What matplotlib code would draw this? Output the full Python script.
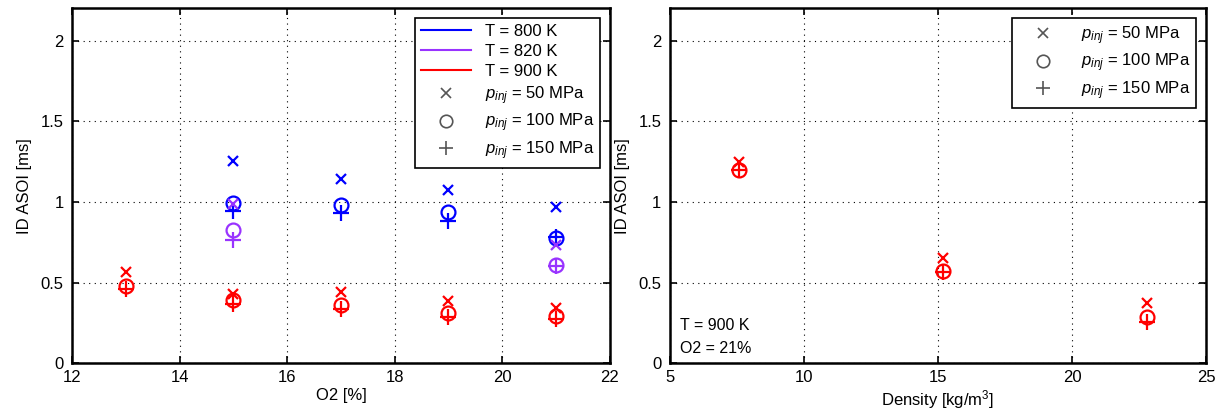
import matplotlib
matplotlib.use("Agg")
import matplotlib.pyplot as plt
from matplotlib.lines import Line2D

plt.rcParams['font.family'] = ['Liberation Sans', 'DejaVu Sans']
plt.rcParams['mathtext.fontset'] = 'custom'
plt.rcParams['mathtext.rm'] = 'Liberation Sans'
plt.rcParams['mathtext.it'] = 'Liberation Sans:italic'
plt.rcParams['font.size'] = 12

# left panel: ID vs O2 for three temperatures, three injection pressures
o2_800 = [15, 17, 19, 21]
id_800_p50 = [1.255, 1.14, 1.073, 0.97]
id_800_p100 = [0.995, 0.984, 0.94, 0.777]
id_800_p150 = [0.945, 0.932, 0.88, 0.783]

o2_820 = [15, 21]
id_820_p50 = [0.99, 0.73]
id_820_p100 = [0.824, 0.61]
id_820_p150 = [0.767, 0.605]

o2_900 = [13, 15, 17, 19, 21]
id_900_p50 = [0.565, 0.432, 0.442, 0.386, 0.345]
id_900_p100 = [0.48, 0.395, 0.364, 0.311, 0.29]
id_900_p150 = [0.46, 0.37, 0.339, 0.287, 0.276]

# right panel: ID vs density at T = 900 K, O2 = 21 %
density = [7.6, 15.2, 22.8]
id_rho_p50 = [1.248, 0.655, 0.376]
id_rho_p100 = [1.2, 0.572, 0.287]
id_rho_p150 = [1.2, 0.566, 0.256]

temps = ['T = 800 K', 'T = 820 K', 'T = 900 K']
colors = ['#0000ff', '#9933ff', '#ff0000']
pinj_labels = [r'$p_{inj}$ = 50 MPa', r'$p_{inj}$ = 100 MPa', r'$p_{inj}$ = 150 MPa']
marks = ['x', 'o', '+']
msizes = [7.5, 10, 11]


def style(ax):
    ax.set_ylim(0, 2.2)
    ax.set_yticks([0, 0.5, 1, 1.5, 2])
    ax.set_yticklabels(['0', '0.5', '1', '1.5', '2'])
    ax.grid(True, color='k', linestyle=(0, (1, 4)), linewidth=0.8)
    ax.tick_params(direction='in', top=True, right=True, length=5, width=1.2)
    ax.tick_params(axis='x', pad=5)
    ax.tick_params(axis='y', pad=6)
    for s in ax.spines.values():
        s.set_linewidth(1.8)
    ax.set_ylabel('ID ASOI [ms]', labelpad=6)


def pts(ax, x, ys, c):
    for y, m, ms in zip(ys, marks, msizes):
        ax.plot(x, y, linestyle='none', marker=m, color=c, markersize=ms,
                markerfacecolor='none', markeredgewidth=1.6)


fig = plt.figure(figsize=(12.22, 4.18), dpi=100)
ax1 = fig.add_axes([0.059, 0.131, 0.440, 0.849])
ax2 = fig.add_axes([0.548, 0.131, 0.439, 0.849])

pts(ax1, o2_800, [id_800_p50, id_800_p100, id_800_p150], colors[0])
pts(ax1, o2_820, [id_820_p50, id_820_p100, id_820_p150], colors[1])
pts(ax1, o2_900, [id_900_p50, id_900_p100, id_900_p150], colors[2])
ax1.set_xlim(12, 22)
ax1.set_xticks(range(12, 23, 2))
ax1.set_xlabel('O2 [%]', labelpad=2)
style(ax1)

mk_handles = [Line2D([], [], linestyle='none', marker=m, color='#555555', markersize=ms,
                     markerfacecolor='none', markeredgewidth=1.2)
              for m, ms in zip(marks, [6.5, 9, 10])]
t_handles = [Line2D([], [], color=c, linewidth=1.5) for c in colors]
leg1 = ax1.legend(t_handles + mk_handles, temps + pinj_labels, loc='upper right',
                  fancybox=False, edgecolor='k', framealpha=1, fontsize=12,
                  handlelength=3, labelspacing=0.3, borderaxespad=0.6,
                  borderpad=0.35)
leg1.get_frame().set_linewidth(1.2)

pts(ax2, density, [id_rho_p50, id_rho_p100, id_rho_p150], colors[2])
ax2.set_xlim(5, 25)
ax2.set_xticks([5, 10, 15, 20, 25])
ax2.set_xlabel('Density [kg/m$^3$]', labelpad=2)
style(ax2)
leg2 = ax2.legend(mk_handles, pinj_labels, loc='upper right',
                  fancybox=False, edgecolor='k', framealpha=1, fontsize=12,
                  handlelength=3, labelspacing=0.3, borderaxespad=0.6,
                  borderpad=0.35)
leg2.get_frame().set_linewidth(1.2)
ax2.text(0.02, 0.095, 'T = 900 K', transform=ax2.transAxes, fontsize=11.5)
ax2.text(0.02, 0.03, 'O2 = 21%', transform=ax2.transAxes, fontsize=11.5)

fig.savefig('out.png', dpi=100)
